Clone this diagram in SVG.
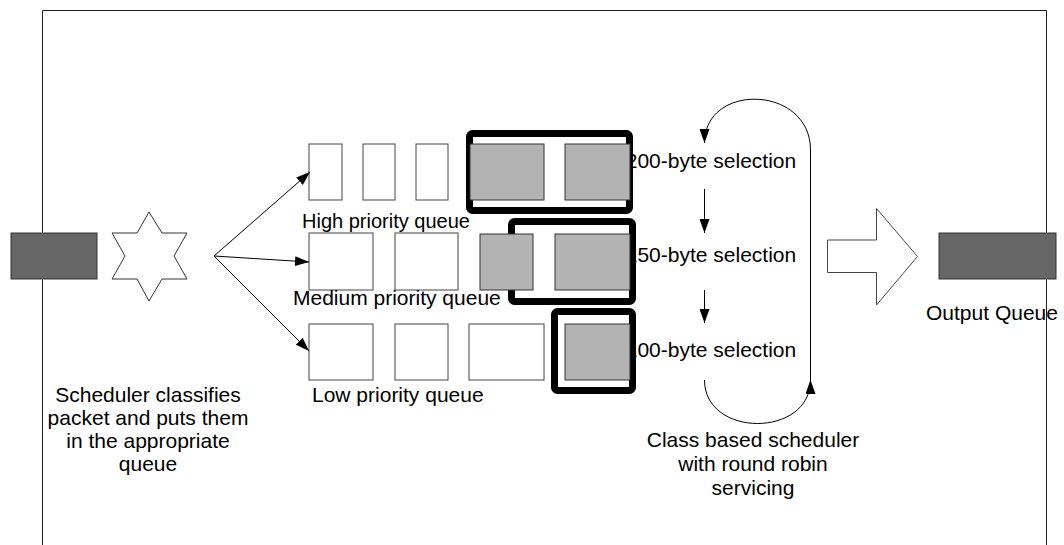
<svg xmlns="http://www.w3.org/2000/svg" width="1064" height="545" viewBox="0 0 1064 545">
<style>
text{font-family:"Liberation Sans",Arial,sans-serif;font-size:21px;fill:#000}
.wb{fill:#fff;stroke:#444;stroke-width:1}
.gb{fill:#b3b3b3;stroke:#333;stroke-width:1}
.dq{fill:#666;stroke:#333;stroke-width:1}
.th{fill:none;stroke:#000;stroke-width:7;stroke-linejoin:round}
.ln{fill:none;stroke:#000;stroke-width:1}
.fr{fill:none;stroke:#222;stroke-width:1}
</style>
<defs>
<marker id="ah" viewBox="0 0 14 10" refX="14" refY="5" markerWidth="14" markerHeight="10" markerUnits="userSpaceOnUse" orient="auto">
<path d="M0,0 L14,5 L0,10 z" fill="#000"/>
</marker>
</defs>
<rect width="1064" height="545" fill="#fff"/>
<g id="frame">
<path class="fr" d="M42.5,545 L42.5,10.5 L1046.5,10.5 L1046.5,545"/>
</g>
<g id="input-queue">
<rect class="dq" x="11" y="233" width="86" height="46"/>
</g>
<g id="classifier">
<polygon points="149,212 162,233 187,233 174,256 187,279 162,279 149,301 137,279 112,279 125,256 112,233 137,233" fill="#fff" stroke="#333" stroke-width="1"/>
<text x="148" y="402" text-anchor="middle">Scheduler classifies</text>
<text x="148" y="425" text-anchor="middle">packet and puts them</text>
<text x="148" y="448" text-anchor="middle">in the appropriate</text>
<text x="148" y="471" text-anchor="middle">queue</text>
</g>
<g id="selection-labels">
<text x="711" y="168" text-anchor="middle">200-byte selection</text>
<text x="711" y="262" text-anchor="middle">150-byte selection</text>
<text x="711" y="357" text-anchor="middle">100-byte selection</text>
</g>
<g id="high-queue">
<rect class="wb" x="309" y="144" width="33" height="56"/>
<rect class="wb" x="363" y="144" width="32" height="56"/>
<rect class="wb" x="416" y="144" width="32" height="56"/>
<rect class="th" x="469.5" y="133.5" width="160" height="77" rx="3"/>
<rect class="gb" x="470" y="144" width="74" height="56"/>
<rect class="gb" x="565" y="144" width="65" height="56"/>
<text x="302" y="228" font-size="20" style="font-size:20px">High priority queue</text>
</g>
<g id="medium-queue">
<rect class="wb" x="309" y="233" width="64" height="57"/>
<rect class="wb" x="395" y="233" width="63" height="57"/>
<rect class="th" x="511.5" y="221.5" width="121" height="80" rx="3"/>
<rect class="gb" x="480" y="234" width="53" height="56"/>
<rect class="gb" x="555" y="234" width="75" height="56"/>
<text x="293" y="305">Medium priority queue</text>
</g>
<g id="low-queue">
<rect class="wb" x="309" y="324" width="64" height="56"/>
<rect class="wb" x="395" y="324" width="53" height="56"/>
<rect class="wb" x="469" y="324" width="75" height="56"/>
<rect class="th" x="554.5" y="311.5" width="78" height="79" rx="3"/>
<rect class="gb" x="565" y="324" width="65" height="56"/>
<text x="312" y="402">Low priority queue</text>
</g>
<g id="scheduler">
<text x="753" y="447" text-anchor="middle">Class based scheduler</text>
<text x="753" y="471" text-anchor="middle">with round robin</text>
<text x="753" y="495" text-anchor="middle">servicing</text>
</g>
<g id="block-arrow">
<polygon points="827.5,240 876.5,240 876.5,208.5 917.5,256.5 876.5,305 876.5,272.5 827.5,272.5" fill="#fff" stroke="#444" stroke-width="1"/>
</g>
<g id="output-queue">
<rect class="dq" x="939" y="233" width="117" height="46"/>
<text x="926" y="320">Output Queue</text>
</g>
<g id="connectors">
<line class="ln" x1="214" y1="256" x2="310" y2="172" marker-end="url(#ah)"/>
<line class="ln" x1="214" y1="256" x2="309" y2="262" marker-end="url(#ah)"/>
<line class="ln" x1="214" y1="256" x2="309" y2="351" marker-end="url(#ah)"/>
<line class="ln" x1="704.5" y1="189" x2="704.5" y2="233" marker-end="url(#ah)"/>
<line class="ln" x1="704.5" y1="290" x2="704.5" y2="323" marker-end="url(#ah)"/>
<path class="ln" d="M704.5,380 C704.5,438 810.5,438 810.5,380" marker-end="url(#ah)"/>
<path class="ln" d="M810.5,380 L810.5,150 C810.5,85 704.5,82 704.5,143" marker-end="url(#ah)"/>
</g>
</svg>
